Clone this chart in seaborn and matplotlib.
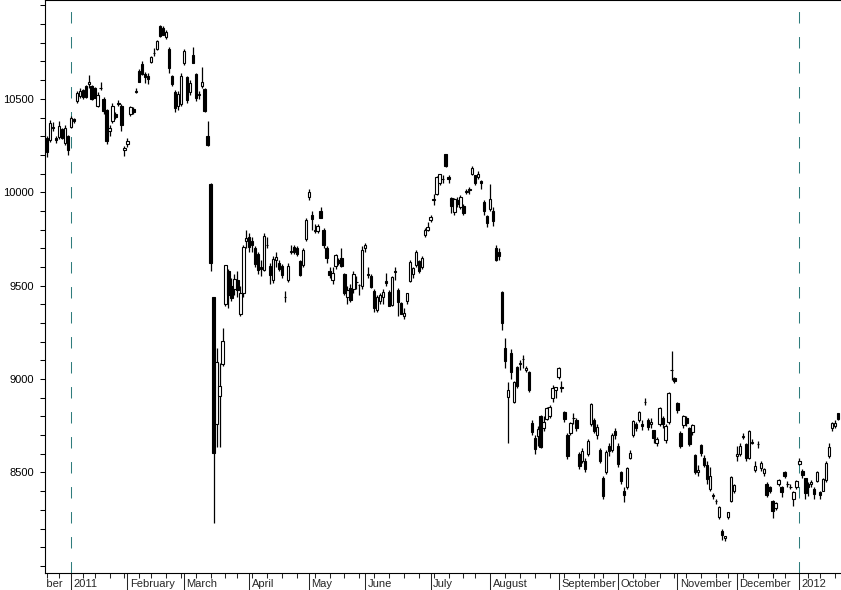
import numpy as np
import pandas as pd
import seaborn as sns
import matplotlib.pyplot as plt
from matplotlib.ticker import FixedLocator, MultipleLocator, NullFormatter
from matplotlib.transforms import Bbox, TransformedBbox

# Daily candles, 17 Dec 2010 .. 24 Jan 2012 (one row per trading day)
holidays = ['2010-12-23', '2010-12-31', '2011-01-03', '2011-01-10', '2011-02-11',
            '2011-03-21', '2011-04-29', '2011-05-03', '2011-05-04', '2011-05-05',
            '2011-07-18', '2011-09-19', '2011-09-23', '2011-10-10', '2011-11-03',
            '2011-11-23', '2011-12-23', '2012-01-02', '2012-01-03', '2012-01-09']

opens = [
    10320, 10290, 10280, 10350, 10290, 10296, 10340, 10265, 10300,
    10352, 10390, 10487, 10516, 10545, 10570, 10580, 10570, 10560, 10462, 10560, 10500, 10440, 10330, 10380, 10420, 10473, 10464, 10225,
    10260, 10420, 10445, 10536, 10650, 10688, 10634, 10620, 10698, 10745, 10769, 10890, 10878, 10832, 10769, 10620, 10539, 10464, 10470,
    10690, 10617, 10536, 10737, 10634, 10518, 10570, 10554, 10303, 10044, 9441, 8757, 8910, 9080, 9400, 9580, 9500, 9480, 9530, 9350, 9460, 9740,
    9760, 9738, 9700, 9667, 9600, 9586, 9720, 9604, 9530, 9640, 9620, 9604, 9440, 9532, 9680, 9706, 9700, 9631, 9613, 9752,
    9972, 9880, 9800, 9790, 9900, 9800, 9700, 9580, 9530, 9604, 9640, 9650, 9560, 9440, 9490, 9480, 9520, 9504, 9500,
    9700, 9560, 9550, 9470, 9371, 9420, 9440, 9527, 9468, 9398, 9580, 9478, 9409, 9340, 9419, 9527, 9560, 9613, 9634, 9600, 9769, 9800,
    9850, 9960, 9990, 10050, 10070, 10204, 10080, 9968, 9892, 9960, 9921, 9927, 10000, 10015, 10097, 10091, 10080, 10059, 9950, 9871,
    9909, 9900, 9700, 9680, 9467, 9169, 8905, 9142, 8878, 9064, 9080, 9110, 9050, 9037, 8763, 8683, 8694, 8801, 8739, 8789, 8800, 8900, 8940,
    9013, 8960, 8825, 8699, 8710, 8790, 8780, 8600, 8560, 8560, 8600, 8760, 8780, 8700, 8620, 8470, 8500, 8640, 8620, 8720,
    8640, 8500, 8400, 8420, 8580, 8700, 8760, 8780, 8760, 8880, 8780, 8760, 8726, 8660, 8758, 8790, 8672, 8771, 9050, 9005,
    8873, 8710, 8753, 8790, 8737, 8717, 8592, 8500, 8645, 8580, 8538, 8414, 8380, 8345, 8260, 8188, 8150, 8260, 8350, 8403,
    8590, 8600, 8690, 8650, 8580, 8660, 8511, 8650, 8522, 8496, 8436, 8420, 8350, 8312, 8436, 8421, 8502, 8440, 8425, 8359, 8420,
    8547, 8508, 8468, 8440, 8440, 8414, 8457, 8394, 8403, 8460, 8586, 8736, 8750, 8817,
]
highs = [
    10330, 10300, 10385, 10375, 10300, 10380, 10345, 10360, 10305,
    10409, 10400, 10540, 10560, 10555, 10575, 10630, 10575, 10565, 10535, 10590, 10510, 10445, 10360, 10480, 10430, 10495, 10470, 10250,
    10290, 10460, 10455, 10560, 10660, 10700, 10645, 10640, 10730, 10770, 10815, 10895, 10890, 10870, 10780, 10630, 10545, 10540, 10640,
    10765, 10620, 10600, 10780, 10640, 10540, 10672, 10560, 10380, 10049, 9441, 9167, 9086, 9274, 9608, 9590, 9540, 9560, 9580, 9500, 9720, 9800,
    9780, 9760, 9710, 9680, 9640, 9780, 9760, 9620, 9660, 9680, 9640, 9615, 9470, 9620, 9720, 9720, 9710, 9640, 9700, 9860,
    10017, 9900, 9830, 9830, 9920, 9810, 9710, 9600, 9600, 9670, 9650, 9700, 9570, 9500, 9510, 9580, 9550, 9510, 9710,
    9730, 9600, 9560, 9480, 9450, 9460, 9480, 9570, 9475, 9550, 9600, 9490, 9415, 9380, 9460, 9640, 9600, 9690, 9640, 9660, 9810, 9840,
    9880, 9990, 10085, 10100, 10090, 10207, 10095, 9975, 9970, 9975, 9985, 9935, 10020, 10030, 10140, 10095, 10115, 10065, 9960, 9880,
    10043, 9920, 9720, 9700, 9470, 9220, 8982, 9160, 8990, 9070, 9100, 9130, 9070, 9045, 8780, 8700, 8750, 8810, 8800, 8850, 8860, 8970, 8960,
    9065, 8990, 8830, 8710, 8770, 8820, 8790, 8610, 8630, 8580, 8680, 8870, 8790, 8760, 8630, 8480, 8620, 8660, 8710, 8740,
    8660, 8510, 8420, 8530, 8620, 8780, 8770, 8830, 8780, 8900, 8790, 8790, 8730, 8690, 8850, 8800, 8760, 8930, 9152, 9010,
    8880, 8720, 8810, 8800, 8745, 8760, 8600, 8540, 8650, 8595, 8560, 8530, 8390, 8360, 8320, 8200, 8160, 8290, 8480, 8440,
    8640, 8660, 8710, 8660, 8730, 8680, 8560, 8670, 8560, 8525, 8450, 8430, 8355, 8340, 8465, 8430, 8510, 8455, 8440, 8400, 8460,
    8580, 8520, 8470, 8450, 8460, 8420, 8510, 8400, 8470, 8560, 8660, 8770, 8780, 8820,
]
lows = [
    10270, 10190, 10270, 10330, 10265, 10285, 10285, 10255, 10200,
    10344, 10370, 10480, 10505, 10500, 10505, 10560, 10495, 10505, 10455, 10545, 10420, 10260, 10300, 10370, 10390, 10460, 10330, 10195,
    10240, 10410, 10420, 10530, 10590, 10630, 10585, 10580, 10690, 10730, 10760, 10830, 10840, 10820, 10640, 10570, 10430, 10440, 10460,
    10680, 10480, 10520, 10690, 10490, 10500, 10560, 10430, 10250, 9578, 8227, 8639, 8639, 9070, 9390, 9380, 9420, 9450, 9440, 9340, 9440, 9700,
    9680, 9680, 9600, 9560, 9550, 9580, 9700, 9510, 9516, 9600, 9580, 9540, 9410, 9520, 9670, 9670, 9660, 9550, 9600, 9740,
    9960, 9800, 9780, 9780, 9860, 9700, 9620, 9540, 9510, 9590, 9610, 9600, 9450, 9400, 9410, 9460, 9480, 9450, 9480,
    9680, 9540, 9490, 9360, 9360, 9400, 9400, 9500, 9390, 9390, 9530, 9340, 9350, 9320, 9400, 9520, 9540, 9600, 9570, 9590, 9760, 9790,
    9840, 9930, 9985, 10040, 10050, 10135, 10050, 9890, 9880, 9920, 9910, 9880, 9990, 9990, 10090, 10040, 10070, 10016, 9880, 9815,
    9900, 9820, 9630, 9640, 9264, 9059, 8656, 9000, 8870, 8950, 9050, 9060, 9040, 8930, 8700, 8600, 8640, 8630, 8720, 8780, 8790, 8880, 8900,
    9000, 8930, 8770, 8570, 8700, 8760, 8720, 8520, 8550, 8500, 8590, 8750, 8710, 8680, 8550, 8359, 8490, 8590, 8610, 8680,
    8530, 8440, 8343, 8410, 8570, 8690, 8720, 8770, 8730, 8860, 8730, 8740, 8660, 8640, 8750, 8740, 8660, 8760, 8995, 8980,
    8820, 8630, 8740, 8750, 8640, 8700, 8490, 8480, 8590, 8530, 8440, 8400, 8360, 8330, 8250, 8140, 8135, 8250, 8340, 8390,
    8560, 8590, 8680, 8560, 8570, 8650, 8500, 8630, 8510, 8480, 8368, 8390, 8258, 8300, 8430, 8370, 8470, 8420, 8410, 8323, 8410,
    8540, 8470, 8360, 8376, 8420, 8360, 8450, 8359, 8400, 8450, 8580, 8720, 8740, 8780,
]
closes = [
    10303, 10216, 10370, 10346, 10279, 10355, 10292, 10344, 10228,
    10398, 10380, 10529, 10541, 10510, 10512, 10589, 10499, 10502, 10518, 10557, 10437, 10274, 10345, 10464, 10401, 10479, 10360, 10237,
    10274, 10457, 10431, 10543, 10592, 10635, 10617, 10605, 10725, 10746, 10808, 10836, 10842, 10857, 10664, 10579, 10452, 10526, 10624,
    10754, 10492, 10586, 10693, 10505, 10525, 10589, 10434, 10254, 9620, 8605, 9093, 8962, 9206, 9608, 9449, 9435, 9536, 9478, 9459, 9708, 9755,
    9708, 9718, 9615, 9584, 9590, 9768, 9719, 9555, 9641, 9653, 9591, 9556, 9441, 9606, 9685, 9682, 9671, 9558, 9691, 9849,
    10004, 9859, 9794, 9819, 9864, 9716, 9648, 9558, 9567, 9662, 9620, 9607, 9460, 9477, 9422, 9562, 9521, 9504, 9693,
    9719, 9555, 9492, 9380, 9442, 9449, 9467, 9514, 9391, 9547, 9574, 9411, 9351, 9354, 9459, 9629, 9596, 9678, 9578, 9648, 9797, 9816,
    9868, 9965, 10082, 10100, 10071, 10141, 10069, 9926, 9963, 9936, 9974, 9889, 10005, 10011, 10132, 10050, 10097, 10047, 9901, 9833,
    9965, 9844, 9637, 9659, 9299, 9097, 8944, 9038, 8982, 8963, 9086, 9107, 9057, 8943, 8719, 8628, 8733, 8639, 8772, 8846, 8851, 8953, 8955,
    9060, 8950, 8785, 8590, 8763, 8793, 8737, 8535, 8616, 8518, 8668, 8864, 8721, 8741, 8560, 8374, 8609, 8615, 8701, 8700,
    8545, 8456, 8382, 8522, 8605, 8773, 8738, 8823, 8747, 8879, 8742, 8772, 8682, 8678, 8843, 8762, 8748, 8926, 9050, 8988,
    8835, 8640, 8801, 8767, 8655, 8755, 8500, 8514, 8603, 8541, 8463, 8479, 8374, 8348, 8314, 8165, 8160, 8287, 8477, 8434,
    8597, 8643, 8695, 8575, 8722, 8664, 8536, 8653, 8552, 8519, 8377, 8401, 8296, 8336, 8459, 8395, 8479, 8440, 8423, 8398, 8455,
    8560, 8488, 8390, 8422, 8448, 8385, 8500, 8378, 8466, 8550, 8639, 8766, 8765, 8785,
]

month_names = ['2011', 'February', 'March', 'April', 'May', 'June', 'July', 'August',
               'September', 'October', 'November', 'December', '2012']

dates = pd.bdate_range('2010-12-17', '2012-01-24')
dates = dates[~dates.isin(pd.to_datetime(holidays))]
df = pd.DataFrame({'date': dates, 'open': opens, 'high': highs, 'low': lows, 'close': closes})
df['x'] = np.arange(len(df))

# first trading day of each month / week
month_start = df.groupby(df.date.dt.to_period('M'))['x'].min().values
week_start = df.groupby(df.date.dt.to_period('W'))['x'].min().values
dec_start = -len(pd.bdate_range('2010-12-01', '2010-12-16'))
year_lines = df.groupby(df.date.dt.year)['x'].min().values[1:]

sns.set_style('ticks')
plt.rcParams['font.family'] = ['Liberation Sans', 'DejaVu Sans']
plt.rcParams['font.size'] = 8

fig = plt.figure(figsize=(8.41, 5.90), dpi=100)
ax = fig.add_axes([45 / 841, 17 / 590, 796 / 841, 572.6 / 590])

for x in year_lines:
    ax.axvline(x, color='#2f7c7c', lw=0.75, dashes=(11, 13), zorder=1)

up = df[df.close >= df.open]
down = df[df.close < df.open]
ax.vlines(df.x, df.low, df.high, color='black', lw=0.9, zorder=2)
ax.bar(up.x, up.close - up.open, bottom=up.open, width=0.8,
       facecolor='white', edgecolor='black', linewidth=0.8, zorder=3)
ax.bar(down.x, down.open - down.close, bottom=down.close, width=0.8,
       facecolor='black', edgecolor='black', linewidth=0.8, zorder=3)

ax.set_xlim(0.3, 268)
ax.set_ylim(7962, 11027)

sns.despine(ax=ax, top=False, right=True)
for s in ax.spines.values():
    s.set_linewidth(0.8)
    s.set_color('black')

ax.yaxis.set_major_locator(FixedLocator([8500, 9000, 9500, 10000, 10500]))
ax.yaxis.set_minor_locator(MultipleLocator(100))
ax.tick_params(axis='y', which='both', length=3.6, width=0.75, pad=4.3,
               direction='out', colors='black', labelsize=8)

ax.xaxis.set_major_locator(FixedLocator(month_start))
ax.xaxis.set_minor_locator(FixedLocator(week_start))
ax.xaxis.set_major_formatter(NullFormatter())
ax.tick_params(axis='x', which='major', length=12.5, width=0.75, direction='out')
ax.tick_params(axis='x', which='minor', length=3.6, width=0.75, direction='out')

# month labels sit right of their tick; the December 2010 one is cut at the left edge
clip = TransformedBbox(Bbox.from_extents(46.6 / 841, 0, 1, 1), fig.transFigure)
labels = [(dec_start, 'December')] + list(zip(month_start[1:], month_names))
for x, name in labels:
    t = ax.annotate(name, xy=(x, 0), xycoords=('data', 'axes fraction'),
                    xytext=(2.5, -11), textcoords='offset pixels',
                    ha='left', va='center', fontsize=8, annotation_clip=False)
    t.set_clip_box(clip)
    t.set_clip_on(True)

fig.savefig('out.png', dpi=100, facecolor='white')
